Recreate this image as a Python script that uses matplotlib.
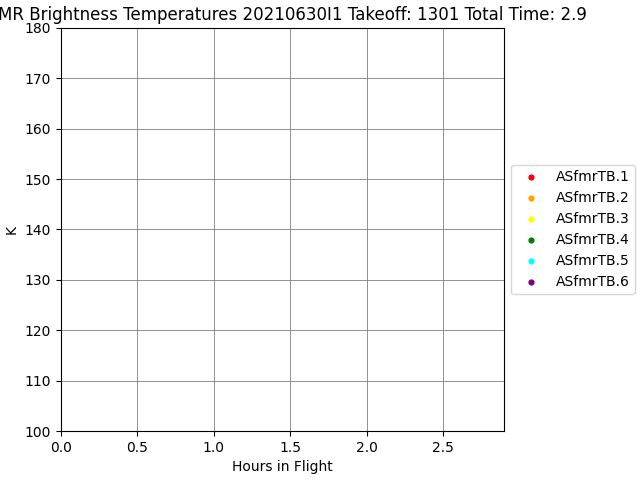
import matplotlib
matplotlib.use("Agg")
import matplotlib.pyplot as plt

flight_id = "20210630I1"
takeoff = "1301"
total_time = 2.9

channels = ["ASfmrTB.1", "ASfmrTB.2", "ASfmrTB.3", "ASfmrTB.4", "ASfmrTB.5", "ASfmrTB.6"]
colors = ["red", "orange", "yellow", "green", "cyan", "purple"]

# no samples recorded for this flight
hours = []
temps = {ch: [] for ch in channels}

fig = plt.figure(figsize=(6.4, 4.8), dpi=100)
ax = fig.add_axes([0.095, 0.102, 0.693, 0.840])

for ch, c in zip(channels, colors):
    ax.scatter(hours, temps[ch], s=12, color=c, label=ch)

ax.set_xlim(0, total_time)
ax.set_ylim(100, 180)
ax.grid(True, color="gray", linewidth=0.6)
ax.set_xlabel("Hours in Flight")
ax.set_ylabel("K")
ax.set_title(f"SFMR Brightness Temperatures {flight_id} Takeoff: {takeoff} Total Time: {total_time}")
ax.legend(loc="center left", bbox_to_anchor=(1.0, 0.5))

plt.savefig("out.png")
